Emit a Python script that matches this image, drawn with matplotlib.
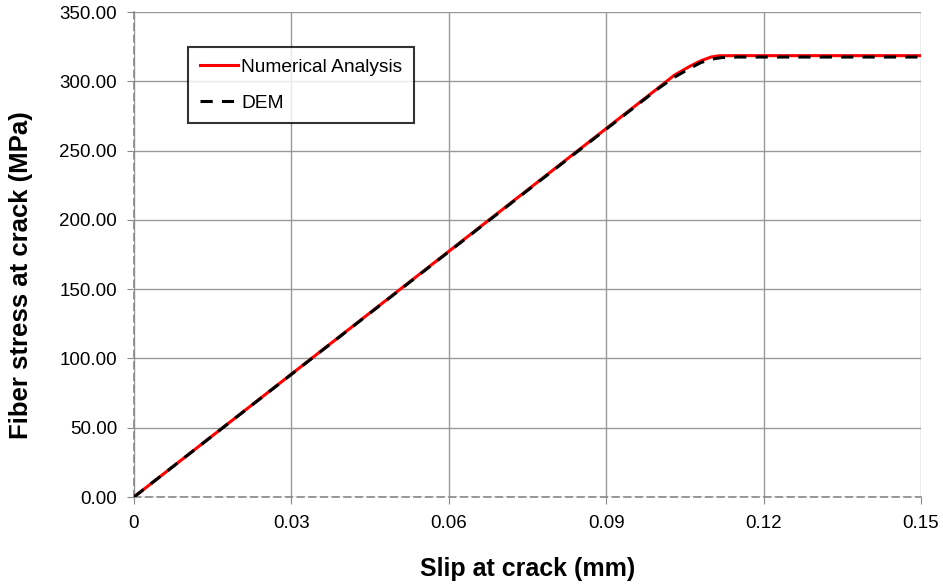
import matplotlib
matplotlib.use("Agg")
from matplotlib import pyplot as plt
from matplotlib.ticker import FormatStrFormatter, FixedLocator

plt.rcParams['font.family'] = ['Liberation Sans', 'DejaVu Sans']

# slip (mm) and fiber stress (MPa)
slip_num = [0, 0.02, 0.04, 0.06, 0.08, 0.10, 0.103, 0.106, 0.108, 0.110, 0.1115, 0.115, 0.13, 0.15]
stress_num = [0, 59.1, 118.2, 177.3, 236.4, 295.5, 304.5, 311.0, 314.8, 317.6, 318.5, 318.6, 318.6, 318.6]

slip_dem = [0, 0.02, 0.04, 0.06, 0.08, 0.10, 0.103, 0.106, 0.108, 0.110, 0.112, 0.115, 0.13, 0.15]
stress_dem = [0, 59.0, 118.0, 177.0, 236.0, 295.0, 303.0, 309.5, 313.5, 316.0, 317.2, 317.6, 317.6, 317.6]

x_ticks = [0, 0.03, 0.06, 0.09, 0.12, 0.15]
x_tick_labels = ["0", "0.03", "0.06", "0.09", "0.12", "0.15"]

fig = plt.figure(figsize=(9.43, 5.87), dpi=100)
ax = fig.add_axes([0.142, 0.1533, 0.8346, 0.826])

ax.plot(slip_num, stress_num, color="red", lw=2.2, label="Numerical Analysis", zorder=3)
ax.plot(slip_dem, stress_dem, color="black", lw=2.2, ls=(0, (4, 3)), label="DEM", zorder=4)

ax.set_xlim(0, 0.15)
ax.set_ylim(0, 350)
ax.xaxis.set_major_locator(FixedLocator(x_ticks))
ax.set_xticklabels(x_tick_labels)
ax.set_yticks(range(0, 351, 50))
ax.yaxis.set_major_formatter(FormatStrFormatter("%.2f"))

ax.grid(True, color="#999999", lw=1)
ax.set_axisbelow(True)
for s in ["top", "right"]:
    ax.spines[s].set_visible(False)
for s in ["left", "bottom"]:
    ax.spines[s].set_color("#888888")
    ax.spines[s].set_linestyle((0, (4, 3)))
    ax.spines[s].set_linewidth(1.2)
ax.tick_params(colors="#888888", labelcolor="black", labelsize=13.5, length=5, direction="out")
ax.tick_params(axis="x", pad=8)
ax.tick_params(axis="y", pad=7)

ax.set_xlabel("Slip at crack (mm)", fontsize=18, fontweight="bold", labelpad=18)
ax.set_ylabel("Fiber stress at crack (MPa)", fontsize=18.5, fontweight="bold")
ax.yaxis.set_label_coords(-0.128, 0.458)

leg = ax.legend(loc="upper left", bbox_to_anchor=(0.069, 0.928), fontsize=13.8,
                frameon=True, fancybox=False, edgecolor="black", handlelength=2.0,
                labelspacing=0.95, borderpad=0.6, handletextpad=0.15, borderaxespad=0)
leg.get_frame().set_linewidth(1.5)

fig.savefig("out.png", dpi=100)
